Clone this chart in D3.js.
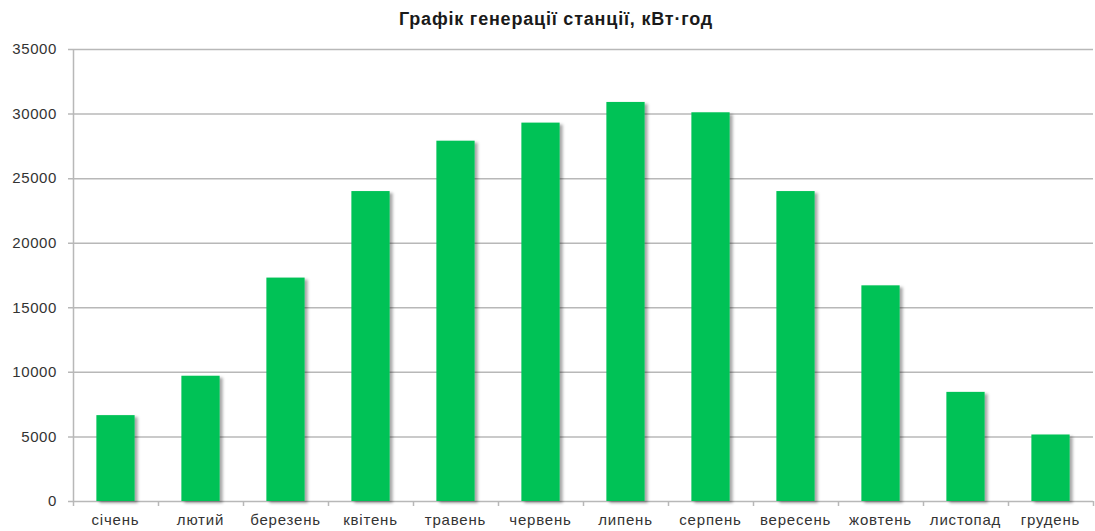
<!DOCTYPE html>
<html>
<head>
<meta charset="utf-8">
<script src="https://cdn.jsdelivr.net/npm/d3@7"></script>
<style>
    body { margin: 0; background: #fff; overflow: hidden; }
    svg { display: block; font-family: "Liberation Sans", Arial, sans-serif; }
</style>
</head>
<body>
<div id="chart"></div>
<script>
const months = ["січень", "лютий", "березень", "квітень", "травень", "червень",
    "липень", "серпень", "вересень", "жовтень", "листопад", "грудень"];
const generation = [6650, 9700, 17300, 24000, 27900, 29300, 30900, 30100, 24000, 16700, 8450, 5150];
const yTicks = [0, 5000, 10000, 15000, 20000, 25000, 30000, 35000];
const title = "Графік генерації станції, кВт·год";

const outerWidth = 1095;
const outerHeight = 531;
const margin = { top: 49, right: 2, bottom: 30, left: 73 };
const innerWidth = outerWidth - margin.left - margin.right;
const innerHeight = outerHeight - margin.top - margin.bottom;

const svg = d3.select("#chart")
    .append("svg")
    .attr("width", outerWidth)
    .attr("height", outerHeight);

// Bar shadow
svg.append("defs")
    .append("filter")
    .attr("id", "bar-shadow")
    .attr("x", "-20%").attr("y", "-10%")
    .attr("width", "150%").attr("height", "130%")
    .append("feDropShadow")
    .attr("dx", 3).attr("dy", 2)
    .attr("stdDeviation", 1.6)
    .attr("flood-color", "#000")
    .attr("flood-opacity", 0.35);

// Title
svg.append("text")
    .attr("x", 556)
    .attr("y", 25)
    .attr("text-anchor", "middle")
    .attr("font-size", 18)
    .attr("letter-spacing", 0.8)
    .attr("font-weight", "bold")
    .attr("fill", "#1a1a1a")
    .text(title);

const g = svg.append("g")
    .attr("transform", "translate(" + margin.left + "," + margin.top + ")");

const yScale = d3.scaleLinear()
    .domain([0, 35000])
    .range([innerHeight, 0]);

const xScale = d3.scaleBand()
    .domain(months)
    .range([0, innerWidth])
    .paddingInner(0.55)
    .paddingOuter(0.275);

// Gridlines
g.append("g")
    .selectAll("line")
    .data(yTicks)
    .enter()
    .append("line")
    .attr("x1", -5)
    .attr("x2", innerWidth)
    .attr("y1", d => yScale(d) + 0.5)
    .attr("y2", d => yScale(d) + 0.5)
    .attr("stroke", "#b8b8b8")
    .attr("stroke-width", 1.5);

// Y axis
const yAxis = d3.axisLeft(yScale)
    .tickValues(yTicks)
    .tickSize(0)
    .tickPadding(16)
    .tickFormat(d3.format("d"));

g.append("g")
    .attr("class", "y-axis")
    .call(yAxis)
    .call(s => s.select(".domain").attr("stroke", "#b8b8b8").attr("stroke-width", 1.5))
    .selectAll("text")
    .attr("font-size", 15)
    .attr("letter-spacing", 0.6)
    .attr("font-family", "\"Liberation Sans\", Arial, sans-serif")
    .attr("fill", "#333");

// X axis tick marks at band boundaries
const step = xScale.step();
g.append("g")
    .selectAll("line")
    .data(d3.range(months.length + 1))
    .enter()
    .append("line")
    .attr("x1", i => i * step + 0.5)
    .attr("x2", i => i * step + 0.5)
    .attr("y1", innerHeight)
    .attr("y2", innerHeight + 5)
    .attr("stroke", "#b8b8b8")
    .attr("stroke-width", 1.5);

// Bars
g.append("g")
    .selectAll("rect")
    .data(generation)
    .enter()
    .append("rect")
    .attr("x", (d, i) => xScale(months[i]))
    .attr("y", d => yScale(d))
    .attr("width", xScale.bandwidth())
    .attr("height", d => innerHeight - yScale(d))
    .attr("fill", "#00c257")
    .attr("filter", "url(#bar-shadow)");

// X labels
g.append("g")
    .selectAll("text")
    .data(months)
    .enter()
    .append("text")
    .attr("x", d => xScale(d) + xScale.bandwidth() / 2)
    .attr("y", innerHeight + 24)
    .attr("text-anchor", "middle")
    .attr("font-size", 15)
    .attr("letter-spacing", 0.8)
    .attr("fill", "#333")
    .text(d => d);
</script>
</body>
</html>
